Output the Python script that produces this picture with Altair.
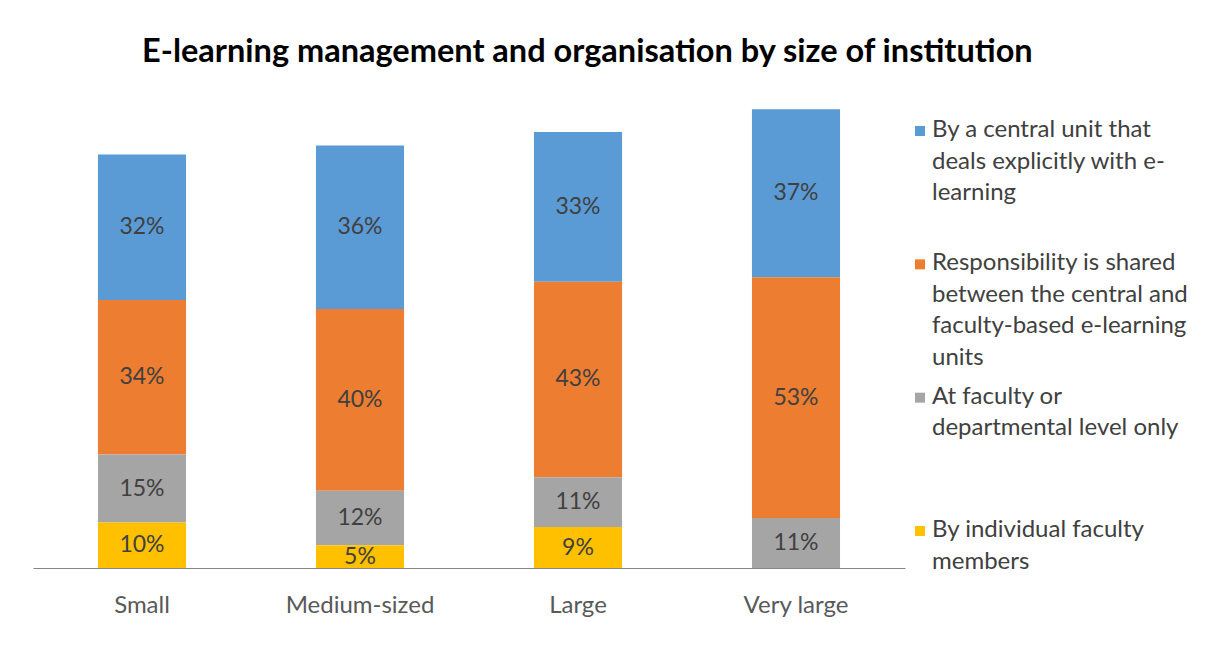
import altair as alt
import pandas as pd

sizes = ["Small", "Medium-sized", "Large", "Very large"]
series_names = [
    "By a central unit that deals explicitly with e-learning",
    "Responsibility is shared between the central and faculty-based e-learning units",
    "At faculty or departmental level only",
    "By individual faculty members",
]
legend_lines = [
    "By a central unit that|deals explicitly with e-|learning",
    "Responsibility is shared|between the central and|faculty-based e-learning|units",
    "At faculty or|departmental level only",
    "By individual faculty|members",
]
colors = ["#5B9BD5", "#ED7D31", "#A5A5A5", "#FFC000"]

central = [32, 36, 33, 37]
shared = [34, 40, 43, 53]
faculty = [15, 12, 11, 11]
individual = [10, 5, 9, 0]

stack_rank = [3, 2, 1, 0]  # individual at bottom, central on top

rows = []
for s_idx, vals in enumerate([central, shared, faculty, individual]):
    for c_idx, v in enumerate(vals):
        rows.append({
            "size": sizes[c_idx],
            "series": series_names[s_idx],
            "value": v,
            "rank": stack_rank[s_idx],
            "label": f"{v}%",
        })
df = pd.DataFrame(rows)

color_scale = alt.Scale(domain=series_names, range=colors)
FONT = "Lato"

base = alt.Chart(df).transform_filter("datum.value > 0").transform_stack(
    stack="value", groupby=["size"], sort=[alt.SortField("rank", order="ascending")], as_=["v0", "v1"]
).transform_calculate(mid="(datum.v0 + datum.v1) / 2")

yscale = alt.Scale(domain=[0, 105], nice=False, zero=True)

xenc = alt.X(
    "size:N",
    sort=sizes,
    scale=alt.Scale(paddingInner=0.596, paddingOuter=0.298),
    axis=alt.Axis(
        title=None, labelAngle=0, labelFontSize=24, labelFont=FONT, labelColor="#595959",
        ticks=False, domainColor="#868686", domainWidth=1, labelPadding=25, grid=False,
    ),
)

bars = base.mark_bar().encode(
    x=xenc,
    y=alt.Y("v0:Q", scale=yscale, axis=None),
    y2="v1:Q",
    color=alt.Color("series:N", scale=color_scale, legend=None),
)

labels = base.mark_text(fontSize=23, font=FONT, color="#404040", baseline="middle").encode(
    x=alt.X("size:N", sort=sizes),
    y=alt.Y("mid:Q", scale=yscale, axis=None),
    text="label:N",
)

main = alt.layer(bars, labels).properties(width=872, height=477)

leg_df = pd.DataFrame({"series": series_names, "label": legend_lines})
leg_y = alt.Y("series:N", sort=series_names, axis=None,
              scale=alt.Scale(type="point", range=[27, 427], padding=0))
leg_sq = alt.Chart(leg_df).mark_square(size=100, opacity=1, yOffset=13).encode(
    x=alt.value(2), y=leg_y,
    color=alt.Color("series:N", scale=color_scale, legend=None),
)
leg_txt = alt.Chart(leg_df).mark_text(
    align="left", baseline="top", lineBreak="|", lineHeight=31.5,
    fontSize=24, font=FONT, color="#404040",
).encode(x=alt.value(14), y=leg_y, text="label:N")
legend = alt.layer(leg_sq, leg_txt).properties(width=230, height=477)

chart = alt.hconcat(main, legend, spacing=10).properties(
    title=alt.TitleParams(
        "E-learning management and organisation by size of institution",
        fontSize=32.5, font=FONT, fontWeight="bold", color="#000000",
        anchor="middle", offset=23, dx=-23,
    ),
    padding={"left": 25, "top": 27, "right": 5, "bottom": 5},
    background="white",
).configure_view(strokeWidth=0, stroke="transparent")

chart.save("out.html", embed_options={"renderer": "svg", "actions": False})
